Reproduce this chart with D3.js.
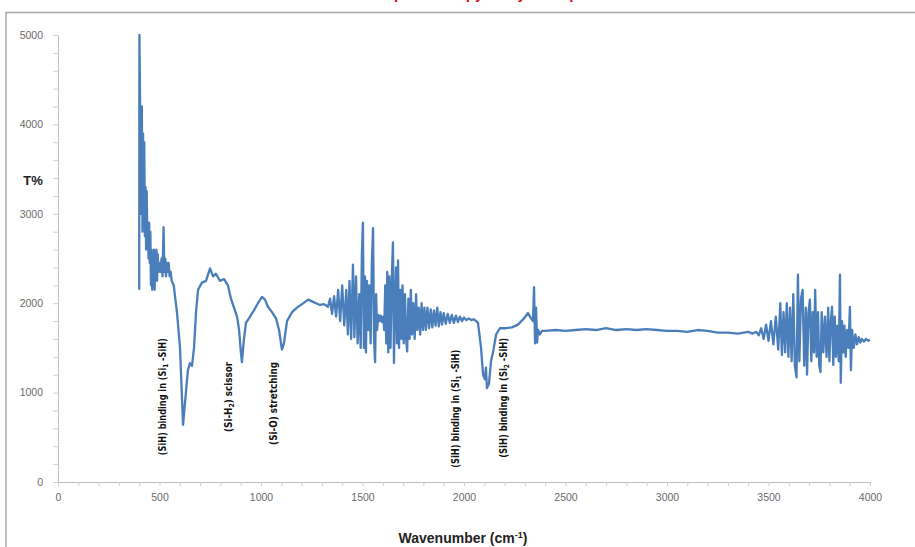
<!DOCTYPE html>
<html>
<head>
<meta charset="utf-8">
<script src="https://cdn.jsdelivr.net/npm/d3@7/dist/d3.min.js"></script>
<style>
  html, body { margin: 0; padding: 0; background: #fff; }
  svg { display: block; }
</style>
</head>
<body>
<svg id="chart" width="915" height="547"></svg>
<script>
// ---------- DATA ----------
const wavenumbers = [
  400,401,410,413,416,419,422,425,428,431,434,437,440,443,446,449,452,455,458,461,
  464,467,470,473,476,479,482,485,488,491,495,500,505,510,515,520,524,528,532,536,
  540,545,550,555,560,570,586,601,616,630,640,650,660,670,680,690,709,729,749,764,
  778,798,818,837,852,867,882,892,901,906,916,926,946,965,985,1005,1020,1034,1054,1074,
  1089,1103,1113,1128,1153,1177,1202,1232,1251,1271,1291,1310,
  1330,1340,1350,1360,1370,1380,1390,1400,1410,1420,1428,1436,1444,1453,1460,1468,1476,1484,1491,1497,
  1502,1507,1512,1517,1522,1528,1534,1540,1546,1552,1557,1562,1567,1572,1578,1584,1590,1596,1602,1607,
  1612,1617,1622,1627,1632,1638,1644,1650,1655,1660,1665,1670,1675,1680,1686,1692,1697,1703,1709,1715,
  1720,1726,1732,1738,1744,1750,1757,1764,1770,1777,1784,1791,1798,1805,1812,1820,1828,1836,1844,1852,
  1860,1868,1876,1884,1892,1900,1910,1920,1930,1940,1950,1960,1970,1980,1990,2000,2012,2024,2036,2048,
  2060,2069,2084,2094,2103,2108,2113,2123,2133,2143,2158,2177,2207,2236,2266,2296,2315,2330,2340,2345,
  2350,2355,2360,2365,2374,2384,
  2400,2450,2500,2550,2600,2650,2700,2750,2800,2850,2900,2950,3000,3050,3100,3150,3200,3250,3300,3350,3400,3420,
  3440,3452,3464,3476,3488,3500,3512,3524,3536,3548,3558,3566,3574,3582,3590,3598,3606,3614,3622,3630,
  3638,3645,3652,3660,3668,3676,3684,3690,3697,3704,3711,3718,3724,3730,3737,3744,3750,3756,3762,3770,
  3778,3786,3794,3800,3807,3813,3819,3826,3832,3839,3846,3852,3856,3862,3868,3874,3880,3887,3894,3901,
  3906,3912,3920,3928,3936,3944,3952,3960,3970,3980,3990,4000
];
const transmittance = [
  2150,5000,3000,4200,2800,3900,2900,3800,2750,3300,2600,3250,2700,2900,2500,2900,2450,2800,2200,2600,
  2150,2550,2200,2600,2150,2500,2300,2600,2250,2550,2350,2450,2350,2500,2300,2850,2350,2500,2300,2450,
  2350,2450,2300,2350,2250,2200,1900,1500,640,1000,1250,1330,1300,1500,1900,2150,2230,2250,2390,2300,
  2330,2250,2270,2200,2050,1950,1850,1700,1450,1340,1600,1780,1850,1920,2000,2070,2040,1960,1900,1830,
  1700,1480,1550,1800,1900,1950,1990,2040,2020,2000,1980,1990,
  1960,2050,1880,2080,1850,2150,1800,2200,1750,2150,1650,2250,1600,2430,1620,2300,1550,2100,1500,2550,
  2900,1500,2300,1450,2250,1700,2200,1550,2450,2840,1600,1340,2100,1700,1870,1800,1860,1790,1850,1700,
  2200,1550,2350,1450,2300,1500,2250,2680,1330,2000,2400,1550,2480,1500,2150,1600,2200,1550,2100,1600,
  1460,2050,1600,2150,1650,2000,1600,2100,1700,1950,1650,2000,1700,1950,1700,1950,1720,1930,1730,1920,
  1750,1950,1740,1900,1760,1890,1770,1880,1780,1870,1780,1860,1790,1850,1800,1840,1810,1830,1810,1820,
  1800,1780,1500,1200,1150,1280,1050,1100,1350,1450,1650,1720,1720,1730,1760,1830,1890,1830,1800,2180,
  1550,1950,1560,1700,1650,1690,
  1690,1700,1690,1700,1710,1700,1720,1700,1710,1700,1710,1700,1690,1690,1680,1700,1690,1670,1670,1660,1680,1660,
  1680,1640,1720,1600,1760,1580,1800,1540,1850,1480,2000,1420,1900,1450,2000,1400,1950,1350,2100,1300,
  1170,2320,1350,2050,2150,1300,1950,1200,1900,2040,1350,1900,1450,2150,1400,1900,1300,1230,1900,1450,
  1850,1400,1950,1350,1800,1960,1310,1850,1400,1750,1350,2320,1110,1800,1450,1750,1400,1700,1500,1960,
  1250,1700,1500,1650,1540,1620,1560,1600,1570,1600,1580,1590
];
const xTickLabels = [0, 500, 1000, 1500, 2000, 2500, 3000, 3500, 4000];
const yTickLabels = [0, 1000, 2000, 3000, 4000, 5000];
const annotationLabels = [
  { text: ["(SiH) binding in (Si", "1", " -SiH)"], wn: 530, base: 300, len: 117 },
  { text: ["(Si-H", "2", ") scissor"], wn: 855, base: 560, len: 70 },
  { text: ["(Si-O) stretching"], wn: 1078, base: 415, len: 83 },
  { text: ["(SiH) binding in (Si", "1", " -SiH)"], wn: 1975, base: 160, len: 118 },
  { text: ["(SiH) binding in (Si", "2", " -SiH)"], wn: 2212, base: 270, len: 120 }
];
const titleText = "FTIR spectroscopy analysis of porous silicon";
const xTitle = "Wavenumber (cm";
const yTitle = "T%";

// ---------- CHART ----------
const svg = d3.select("#chart");
const W = 915, H = 547;
const x = d3.scaleLinear().domain([0, 4000]).range([58, 870]);
const y = d3.scaleLinear().domain([0, 5000]).range([482, 35]);

// frame lines
svg.append("line").attr("x1", 5).attr("x2", W).attr("y1", 12.5).attr("y2", 12.5)
  .attr("stroke", "#a8a8a8").attr("stroke-width", 1.5);
svg.append("line").attr("x1", 6).attr("x2", 6).attr("y1", 12).attr("y2", H)
  .attr("stroke", "#a8a8a8").attr("stroke-width", 1.5);

// red title (cut off at top, as in the reference)
svg.append("text").attr("x", 510).attr("y", -1).attr("text-anchor", "middle")
  .attr("font-family", "Liberation Sans, Arial, sans-serif").attr("font-weight", "bold")
  .attr("font-size", 15).attr("fill", "#d01010").text(titleText);

const font = "Liberation Sans, Arial, sans-serif";

// y axis
const yAxis = d3.axisLeft(y)
  .tickValues(d3.range(0, 5001, 200))
  .tickFormat(d => yTickLabels.includes(d) ? d3.format("d")(d) : "")
  .tickSize(5).tickSizeOuter(0).tickPadding(10);
const gy = svg.append("g").attr("transform", "translate(58,0)").call(yAxis);
gy.select(".domain").attr("stroke", "#bfbfbf");
gy.selectAll(".tick line").attr("stroke", "#cfcfcf");
gy.selectAll(".tick text").attr("font-family", font).attr("font-size", 10.5).attr("fill", "#6a6a6a");

// x axis
const xAxis = d3.axisBottom(x)
  .tickValues(d3.range(0, 4001, 100))
  .tickFormat(d => xTickLabels.includes(d) ? d3.format("d")(d) : "")
  .tickSize(4).tickSizeOuter(0).tickPadding(8);
const gx = svg.append("g").attr("transform", "translate(0,482)").call(xAxis);
gx.select(".domain").attr("stroke", "#bfbfbf");
gx.selectAll(".tick line").attr("stroke", "#cfcfcf");
gx.selectAll(".tick text").attr("font-family", font).attr("font-size", 10.5).attr("fill", "#6a6a6a");

// axis titles
svg.append("text").attr("x", 33).attr("y", 185).attr("text-anchor", "middle")
  .attr("font-family", font).attr("font-weight", "bold").attr("font-size", 13)
  .attr("fill", "#222").text(yTitle);
const xt = svg.append("text").attr("x", 463).attr("y", 543).attr("text-anchor", "middle")
  .attr("font-family", font).attr("font-weight", "bold").attr("font-size", 14)
  .attr("fill", "#222");
xt.append("tspan").text(xTitle);
xt.append("tspan").attr("font-size", 9).attr("dy", -5).text("-1");
xt.append("tspan").attr("dy", 5).text(")");

// spectrum line
const pts = wavenumbers.map((w, i) => [w, transmittance[i]]);
const line = d3.line().x(d => x(d[0])).y(d => y(d[1]));
svg.append("path").datum(pts).attr("d", line)
  .attr("fill", "none").attr("stroke", "#4a7ebb").attr("stroke-width", 2.3)
  .attr("stroke-linejoin", "round");

// annotations (rotated)
annotationLabels.forEach(a => {
  const px = x(a.wn), py = y(a.base);
  const t = svg.append("text")
    .attr("transform", `translate(${px},${py}) rotate(-90)`)
    .attr("font-family", "Liberation Sans Narrow, DejaVu Sans Condensed, Arial, sans-serif")
    .attr("font-size", 10).attr("font-weight", 600).attr("fill", "#111")
    .attr("textLength", a.len).attr("lengthAdjust", "spacingAndGlyphs");
  a.text.forEach((s, i) => {
    if (i === 1) {
      t.append("tspan").attr("font-size", 7).attr("dy", 2).text(s);
    } else if (i === 2) {
      t.append("tspan").attr("dy", -2).text(s);
    } else {
      t.append("tspan").text(s);
    }
  });
});
</script>
</body>
</html>
